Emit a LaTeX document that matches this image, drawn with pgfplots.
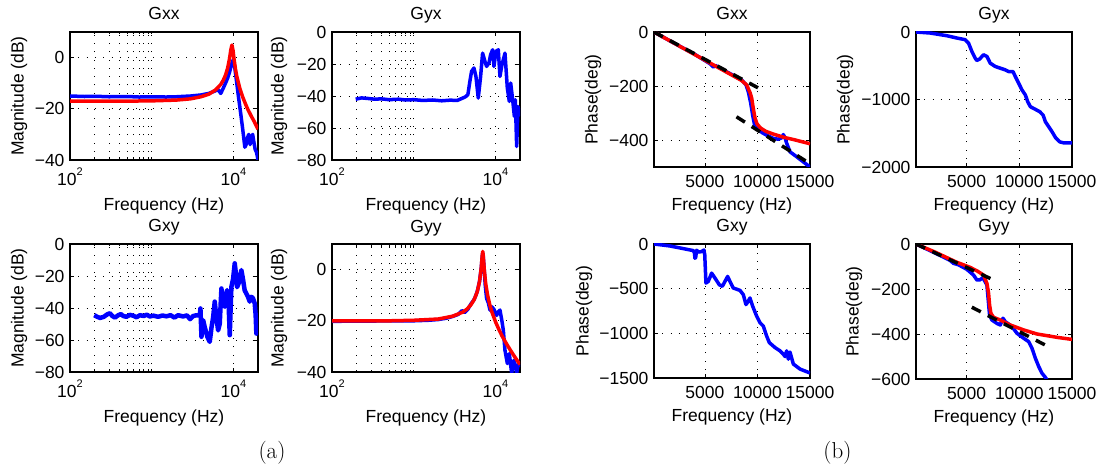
\documentclass[border=0pt]{standalone}
\usepackage{fontspec}
\setsansfont{Liberation Sans}
\usepackage{pgfplots}
\pgfplotsset{compat=1.18}
\newcommand\tenpow[1]{10\raisebox{10.5pt}{\fontsize{11}{12}\selectfont #1}}
\definecolor{mblue}{RGB}{0,0,255}
\definecolor{mred}{RGB}{255,0,0}
\pgfplotsset{
  common/.style={
    scale only axis, anchor=north west,
    font=\sffamily\fontsize{17.5}{19}\selectfont,
    axis line style={line width=1.2pt, black},
    grid style={black, line width=0.8pt, dash pattern=on 0.8pt off 7.5pt},
    major tick length=4pt, minor tick length=2.5pt,
    tick style={line width=0.8pt, black},
    title style={at={(axis description cs:0.5,1)}, anchor=base, yshift=6pt, inner sep=0pt},
    xmajorgrids, ymajorgrids,
    scaled x ticks=false, scaled y ticks=false,
    yticklabel style={xshift=-2pt},
    clip=true,
  },
  mag/.style={
    common, width=188pt, height=128pt,
    xmin=100, xmax=20000,
    xtick={100,10000}, xticklabels={\tenpow{2},\tenpow{4}},
    minor xtick={200,300,400,500,600,700,800,900,1000}, xminorgrids,
    xticklabel style={yshift=-4pt},
    xlabel={Frequency (Hz)}, ylabel={Magnitude (dB)},
    xlabel style={at={([yshift=-38pt]axis description cs:0.5,0)}, anchor=north, inner sep=0pt},
    ylabel style={at={([xshift=-#1]axis description cs:0,0.5)}, anchor=center, inner sep=0pt},
  },
  phase/.style={
    common, width=156pt, height=135pt,
    xmax=15000,
    xtick={5000,10000,15000}, xticklabels={5000,10000,15000},
    xticklabel style={yshift=-5pt},
    xlabel={Frequency (Hz)}, ylabel={Phase(deg)},
    xlabel style={at={([yshift=-31pt]axis description cs:0.5,0)}, anchor=north, inner sep=0pt},
    ylabel style={at={([xshift=-#1]axis description cs:0,0.5)}, anchor=center, inner sep=0pt},
  },
  bl/.style={mblue, line width=3.5pt, line join=round},
  rd/.style={mred, line width=3.5pt, line join=round},
  dsh/.style={black, line width=3.5pt, dash pattern=on 10pt off 8pt},
}
\begin{document}
\begin{tikzpicture}
\useasboundingbox (0pt,0pt) rectangle (1100pt,-470pt);

% ---------- (a) Gxx magnitude
\begin{semilogxaxis}[mag=51pt, at={(70pt,-32pt)}, title={Gxx},
  ymin=-40, ymax=10, ytick={-40,-20,0}, yticklabels={−40,−20,0}]
\addplot[bl] coordinates {(100,-15.0) (150,-15.2) (200,-15.1) (300,-15.3) (500,-15.2) (700,-15.4) (1000,-15.3) (1500,-15.4) (2000,-15.3) (3000,-15.0) (4000,-14.6) (5000,-14.0) (6000,-13.0) (6500,-12.5) (7000,-14.0) (7500,-12.0) (8000,-10.0) (8500,-8.0) (9000,-5.5) (9500,-2.5) (9900,-1.0) (10300,-3.0) (10800,-8.0) (11500,-15.0) (12300,-22.0) (13000,-28.0) (13800,-35.0) (14300,-34.0) (14800,-31.5) (15400,-30.0) (16000,-34.0) (16600,-31.0) (17200,-30.0) (17800,-33.0) (18500,-36.0) (19200,-37.0) (20000,-40.0)};
\addplot[rd] coordinates {(100,-17.0) (500,-17.0) (1000,-16.9) (2000,-16.6) (3000,-16.1) (4000,-15.3) (5000,-14.3) (6000,-12.7) (7000,-10.5) (7500,-8.9) (8000,-6.9) (8500,-4.1) (9000,-0.1) (9300,3.1) (9600,4.9) (9900,2.7) (10200,-0.8) (10600,-4.5) (11000,-7.3) (12000,-12.1) (13000,-15.4) (14000,-18.0) (15000,-20.2) (16500,-22.8) (18000,-25.0) (20000,-28.0)};
\end{semilogxaxis}

% ---------- (a) Gyx magnitude
\begin{semilogxaxis}[mag=53pt, at={(332pt,-32pt)}, title={Gyx},
  ymin=-80, ymax=0, ytick={-80,-60,-40,-20,0}, yticklabels={−80,−60,−40,−20,0}]
\addplot[bl] coordinates {(195,-42.0) (230,-41.2) (270,-41.5) (330,-42.0) (400,-41.8) (500,-42.3) (650,-42.0) (800,-42.5) (1000,-42.3) (1300,-42.8) (1700,-42.5) (2200,-43.0) (2800,-42.6) (3400,-42.8) (3900,-41.5) (4300,-40.5) (4600,-39.2) (4900,-30.0) (5110,-24.6) (5458,-22.5) (5778,-27.8) (6166,-41.3) (6590,-27.8) (6966,-13.2) (7447,-18.4) (7798,-21.5) (8337,-19.4) (8730,-14.2) (9245,-11.1) (9594,-21.5) (10160,-12.1) (10840,-11.1) (11370,-27.8) (11910,-21.5) (13090,-13.2) (13990,-35.1) (14800,-43.4) (15380,-31.9) (16260,-42.4) (17060,-52.8) (17540,-42.4) (18200,-71.6) (18920,-46.6) (19630,-51.8) (20000,-48.6)};
\end{semilogxaxis}

% ---------- (a) Gxy magnitude
\begin{semilogxaxis}[mag=51pt, at={(70pt,-244pt)}, title={Gxy},
  ymin=-80, ymax=0, ytick={-80,-60,-40,-20,0}, yticklabels={−80,−60,−40,−20,0}]
\addplot[bl, line width=4.5pt] coordinates {(198,-44.5) (215,-45.5) (233,-46.2) (260,-45.5) (285,-44.0) (308,-43.3) (330,-45.0) (355,-46.0) (390,-44.5) (420,-43.8) (448,-45.0) (490,-45.5) (540,-44.3) (594,-44.8) (650,-45.8) (720,-44.5) (800,-45.0) (870,-44.2) (949,-45.3) (1050,-44.8) (1200,-45.5) (1350,-44.7) (1517,-45.2) (1700,-44.5) (1900,-46.0) (2100,-44.5) (2425,-45.3) (2700,-44.6) (2950,-47.0) (3214,-45.0) (3500,-44.6) (3873,-44.5) (3950,-40.3) (4064,-58.0) (4260,-47.6) (4460,-52.0) (4800,-58.0) (5130,-61.2) (5400,-52.0) (5640,-46.0) (5910,-36.0) (6190,-46.0) (6500,-54.0) (6800,-50.0) (7130,-27.8) (7500,-38.0) (7830,-39.2) (8100,-33.0) (8360,-28.8) (8700,-35.0) (9020,-57.0) (9250,-40.0) (9450,-26.7) (9900,-22.0) (10380,-12.1) (10700,-18.0) (11090,-27.0) (11700,-24.0) (12510,-16.3) (13100,-22.0) (13740,-29.0) (14400,-31.0) (15100,-33.0) (15810,-36.0) (16590,-33.0) (17400,-34.0) (18230,-37.2) (18700,-44.0) (19100,-56.0) (19600,-48.0) (20000,-47.6)};
\end{semilogxaxis}

% ---------- (a) Gyy magnitude
\begin{semilogxaxis}[mag=53pt, at={(332pt,-244pt)}, title={Gyy},
  ymin=-40, ymax=10, ytick={-40,-20,0}, yticklabels={−40,−20,0}]
\addplot[bl] coordinates {(100,-20.2) (300,-20.1) (600,-20.0) (1000,-20.0) (1500,-19.8) (2000,-19.5) (2500,-19.0) (3000,-18.3) (3500,-17.5) (3900,-16.0) (4200,-16.8) (4600,-15.5) (5000,-13.5) (5400,-12.0) (5700,-10.5) (6000,-8.5) (6400,-4.5) (6700,0.5) (6900,5.0) (7000,6.5) (7100,5.0) (7300,0.0) (7500,-6.0) (7800,-11.3) (8200,-13.0) (8570,-15.8) (9000,-14.5) (9590,-15.5) (10000,-17.0) (10350,-17.9) (10800,-16.5) (11370,-15.8) (12000,-20.0) (12500,-23.7) (13090,-31.5) (14000,-36.7) (14800,-32.8) (15800,-40.5) (16870,-35.4) (18200,-40.5) (19000,-37.0) (20000,-38.0)};
\addplot[rd] coordinates {(100,-20.0) (500,-20.0) (1000,-19.8) (2000,-19.3) (3000,-18.2) (4000,-16.6) (4500,-15.4) (5000,-13.8) (5500,-11.7) (6000,-8.6) (6400,-4.5) (6700,0.6) (6900,5.7) (7000,7.1) (7100,5.5) (7300,0.1) (7600,-5.4) (8000,-9.8) (8500,-13.5) (9000,-16.3) (10000,-20.3) (11000,-23.3) (12000,-25.8) (13500,-28.7) (15000,-31.1) (17000,-33.8) (20000,-37.1)};
\end{semilogxaxis}

% ---------- (b) Gxx phase
\begin{axis}[phase=61pt, at={(654pt,-32pt)}, title={Gxx}, xmin=150,
  ymin=-500, ymax=0, ytick={-400,-200,0}, yticklabels={−400,−200,0}]
\addplot[bl] coordinates {(150,0) (2000,-40) (4000,-82) (5500,-118) (5800,-130) (6000,-124) (7000,-146) (8000,-167) (8500,-178) (8900,-195) (9125,-221) (9350,-262) (9550,-310) (9760,-351) (10080,-363) (10500,-374) (10870,-382) (11500,-394) (11970,-397) (12300,-392) (12460,-380) (12620,-392) (12780,-412) (13100,-444) (13730,-462) (14360,-481) (15000,-500)};
\addplot[rd] coordinates {(150,0) (2000,-40) (4000,-83) (6000,-126) (8000,-169) (8500,-180) (8970,-196) (9300,-225) (9450,-245) (9600,-283) (9760,-318) (9950,-340) (10300,-356) (10800,-368) (11500,-378) (12500,-390) (13500,-399) (15000,-414)};
\addplot[dsh] coordinates {(150,0) (10400,-214)};
\addplot[dsh] coordinates {(8000,-314) (15000,-488)};
\end{axis}

% ---------- (b) Gyx phase
\begin{axis}[phase=71pt, at={(916pt,-32pt)}, title={Gyx}, xmin=190,
  ymin=-2000, ymax=0, ytick={-2000,-1000,0}, yticklabels={−2000,−1000,0}]
\addplot[bl] coordinates {(190,0) (1524,-15) (3111,-55) (4063,-89) (4857,-114) (5175,-164) (5492,-288) (5810,-387) (5968,-422) (6222,-402) (6603,-337) (6921,-362) (7238,-462) (7714,-511) (8190,-536) (8667,-561) (8984,-586) (9397,-586) (9619,-660) (9937,-759) (10254,-859) (10571,-933) (10794,-1032) (11048,-1107) (11524,-1146) (11937,-1181) (12254,-1231) (12476,-1330) (12794,-1404) (13111,-1479) (13429,-1563) (13841,-1628) (14222,-1643) (15000,-1643)};
\end{axis}

% ---------- (b) Gxy phase
\begin{axis}[phase=70pt, at={(654pt,-244pt)}, title={Gxy}, xmin=150, height=134pt,
  ymin=-1500, ymax=0, ytick={-1500,-1000,-500,0}, yticklabels={−1500,−1000,−500,0}]
\addplot[bl] coordinates {(150,0) (1667,-22) (3254,-59) (3889,-74) (4000,-100) (4048,-160) (4120,-150) (4206,-70) (4400,-90) (4683,-85) (4905,-67) (4980,-120) (5095,-437) (5317,-419) (5635,-326) (5952,-381) (6365,-456) (6651,-474) (6905,-419) (7159,-363) (7381,-419) (7698,-493) (8333,-519) (8651,-567) (8905,-678) (9127,-641) (9286,-604) (9540,-696) (9921,-807) (10238,-881) (10556,-919) (10873,-1030) (11127,-1104) (11667,-1159) (12143,-1196) (12460,-1233) (12620,-1260) (12778,-1196) (12937,-1289) (13095,-1210) (13413,-1344) (14048,-1400) (15000,-1444)};
\end{axis}

% ---------- (b) Gyy phase
\begin{axis}[phase=62pt, at={(916pt,-244pt)}, title={Gyy}, xmin=190,
  ymin=-600, ymax=0, ytick={-600,-400,-200,0}, yticklabels={−600,−400,−200,0}]
\addplot[bl] coordinates {(190,0) (2000,-40) (3400,-72) (3746,-86) (4200,-92) (5000,-112) (5651,-138) (5968,-160) (6222,-160) (6540,-150) (6921,-182) (7048,-249) (7175,-316) (7397,-338) (7873,-353) (8190,-360) (8444,-330) (8667,-345) (9302,-367) (9778,-397) (10413,-419) (10889,-434) (11206,-464) (11524,-508) (11841,-545) (12159,-575) (12476,-593) (12700,-610)};
\addplot[rd] coordinates {(190,0) (2000,-36) (4000,-80) (5333,-104) (6000,-120) (6603,-138) (6921,-175) (7079,-219) (7175,-271) (7302,-308) (7556,-326) (8190,-338) (9143,-360) (10413,-382) (11683,-400) (13587,-415) (15000,-424)};
\addplot[dsh] coordinates {(190,0) (7873,-167)};
\addplot[dsh] coordinates {(5492,-281) (12952,-461)};
\end{axis}

\node[font=\rmfamily\fontsize{23}{25}\selectfont] at (272pt,-452.5pt) {(a)};
\node[font=\rmfamily\fontsize{23}{25}\selectfont] at (837.5pt,-453pt) {(b)};
\end{tikzpicture}
\end{document}
